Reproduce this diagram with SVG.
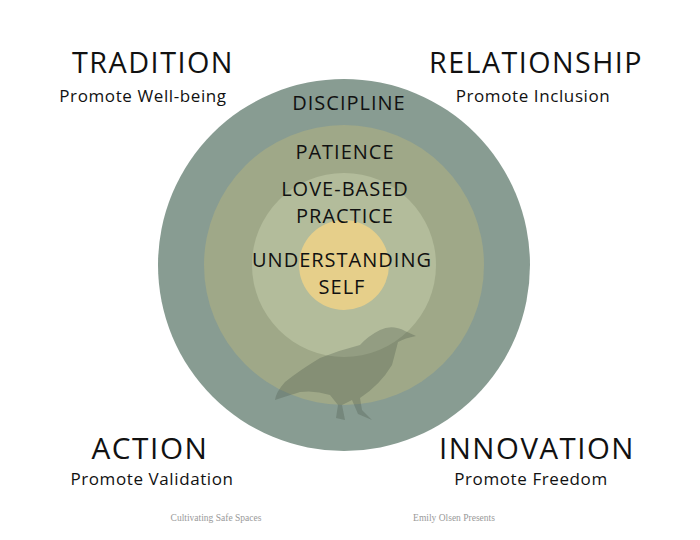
<svg xmlns="http://www.w3.org/2000/svg" width="700" height="540" viewBox="0 0 700 540">
<style>
.t{font-family:"Open Sans","Liberation Sans",sans-serif;fill:#111;text-anchor:middle}
.h{font-size:29px;letter-spacing:1.5px}
.s{font-size:17px;letter-spacing:0.6px}
.r{font-size:20px;letter-spacing:1px}
.f{font-family:"Liberation Serif",serif;font-size:9.5px;fill:#999;text-anchor:middle}
</style>
<rect width="700" height="540" fill="#fff"/>
<g id="rings">
<circle cx="344" cy="265" r="186" fill="#889c92"/>
<circle cx="344" cy="265" r="140" fill="#9fa888"/>
<circle cx="344" cy="265" r="92" fill="#b3bc9b"/>
<circle cx="344" cy="265" r="45" fill="#e6cf8a"/>
</g>
<g id="crow" fill="#4a5548" opacity="0.3">
<path d="M416,336 L405,331 Q392,324 380,330 Q368,336 360,345 Q340,350 320,358 Q300,370 285,382 Q276,392 275,400 Q290,395 300,392 Q315,390 330,395 L338,405 L336,418 L345,420 L342,405 L352,400 L358,414 L372,420 L362,410 L360,398 Q380,385 392,365 Q396,350 398,342 Q405,338 416,336 Z"/>
</g>
<g id="labels">
<text class="t h" x="153" y="73" textLength="162" lengthAdjust="spacingAndGlyphs">TRADITION</text>
<text class="t s" x="143" y="102">Promote Well-being</text>
<text class="t h" x="536" y="73" textLength="214" lengthAdjust="spacingAndGlyphs">RELATIONSHIP</text>
<text class="t s" x="533" y="102">Promote Inclusion</text>
<text class="t h" x="150" y="459" textLength="117" lengthAdjust="spacingAndGlyphs">ACTION</text>
<text class="t s" x="152" y="485">Promote Validation</text>
<text class="t h" x="537" y="459" textLength="196" lengthAdjust="spacingAndGlyphs">INNOVATION</text>
<text class="t s" x="531" y="485">Promote Freedom</text>
<text class="t r" x="349" y="110">DISCIPLINE</text>
<text class="t r" x="345" y="159">PATIENCE</text>
<text class="t r" x="345" y="196">LOVE-BASED</text>
<text class="t r" x="345" y="223">PRACTICE</text>
<text class="t r" x="342" y="267">UNDERSTANDING</text>
<text class="t r" x="342" y="294">SELF</text>
<text class="f" x="216" y="521">Cultivating Safe Spaces</text>
<text class="f" x="454" y="521">Emily Olsen Presents</text>
</g>
</svg>
